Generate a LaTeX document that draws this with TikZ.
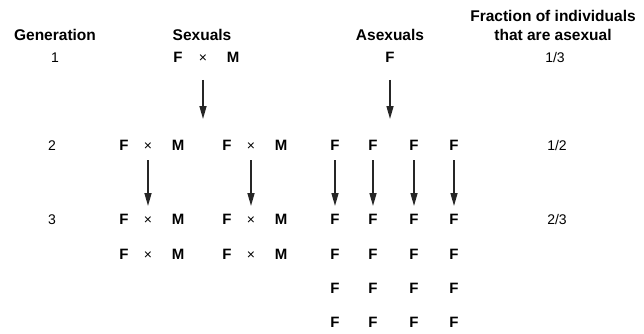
\documentclass[tikz,border=0pt]{standalone}
\usepackage{fontspec}
\setmainfont{Liberation Sans}
\usetikzlibrary{arrows.meta,calc}
\begin{document}
\begin{tikzpicture}[x=1pt,y=-1pt,
  hdr/.style={font=\fontsize{15.5}{17}\selectfont\bfseries, inner sep=0pt, anchor=base},
  lt/.style={font=\fontsize{15}{17}\selectfont\bfseries, inner sep=0pt, anchor=base},
  num/.style={font=\fontsize{14}{16}\selectfont, inner sep=0pt, anchor=base},
  tms/.style={font=\fontsize{14}{16}\selectfont, inner sep=0pt, anchor=base},
  arr/.style={-{Triangle[length=13pt,width=7pt]}, line width=1.5pt, black!85}]
\useasboundingbox (0,0) rectangle (644,334);
% headers
\node[hdr] (hgen) at (55,41) {Generation};
\node[hdr] (hsex) at (202,41) {Sexuals};
\node[hdr] (hasex) at (390,41) {Asexuals};
\node[hdr] (hfr1) at (553,22) {Fraction of individuals};
\node[hdr] (hfr2) at (553,41) {that are asexual};
% generation numbers
\node[num] (g1) at (55,63) {1};
\node[num] (g2) at (52,150) {2};
\node[num] (g3) at (52,224) {3};
% fractions
\node[num] (f1) at (555,63) {1/3};
\node[num] (f2) at (557,150) {1/2};
\node[num] (f3) at (557,224) {2/3};
% sexual generation 1
\node[lt] (s1f) at (178,63) {F};
\node[tms] (s1x) at (203,63) {×};
\node[lt] (s1m) at (233,63) {M};
% sexual generation 2 and 3
\foreach \g/\dx in {a/0,b/103}{
  \foreach \r/\y in {2/150,3/224,4/259}{
    \node[lt] (s\r\g f) at (124+\dx,\y) {F};
    \node[tms] (s\r\g x) at (148+\dx,\y) {×};
    \node[lt] (s\r\g m) at (178+\dx,\y) {M};
  }
}
% asexuals
\node[lt] (a1) at (390,63) {F};
\foreach \c/\x in {1/335,2/373,3/414,4/454}{
  \foreach \r/\y in {2/150,3/224,4/259,5/293,6/327}{
    \node[lt] (a\r\c) at (\x,\y) {F};
  }
}
% arrows
\coordinate (s1st) at (203,80);
\coordinate (s1end) at (203,119);
\draw[arr] (s1st) -- (s1end);
\draw[arr] ($(a1.base)+(0,17)$) -- ($(a1.base)+(0,56)$);
\foreach \g in {a,b}{
  \draw[arr] ($(s2\g x.base)+(0,10)$) -- ($(s3\g x.base)+(0,-18)$);
}
\foreach \c in {1,2,3,4}{
  \draw[arr] ($(a2\c.base)+(0,10)$) -- ($(a3\c.base)+(0,-18)$);
}
\end{tikzpicture}
\end{document}
